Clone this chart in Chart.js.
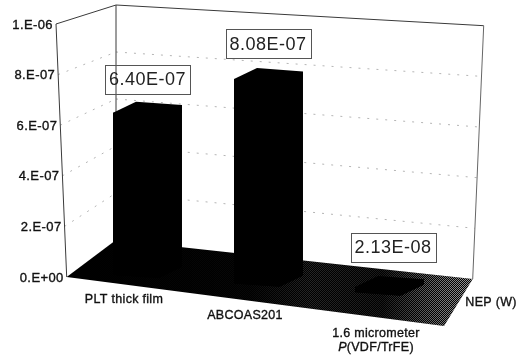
<!DOCTYPE html>
<html>
<head>
<meta charset="utf-8">
<style>
  html, body { margin: 0; padding: 0; background: #fff; }
  canvas { display: block; }
</style>
<script src="https://cdn.jsdelivr.net/npm/chart.js@4/dist/chart.umd.js"></script>
</head>
<body>
<canvas id="nep" width="522" height="357"></canvas>
<script>
const categories = ['PLT thick film', 'ABCOAS201', ['1.6 micrometer', 'P(VDF/TrFE)']];
const nepValues = [6.40e-7, 8.08e-7, 2.13e-8];
const valueLabels = ['6.40E-07', '8.08E-07', '2.13E-08'];
const yTickValues = [0, 2e-7, 4e-7, 6e-7, 8e-7, 1e-6];
const yTickLabels = ['0.E+00', '2.E-07', '4.E-07', '6.E-07', '8.E-07', '1.E-06'];
const seriesName = 'NEP (W)';

// the 3d box the chart sits in
const frontBottom = [66.7, 277];
const frontTop = [56, 24];
const backBottom = [116, 240];
const backTop = [116, 5];
const rightBottom = [472.7, 279];
const rightTop = [483.7, 25.7];
const floorFront = [444, 326];

// fake perspective for the bars
const shear = 0.073;
const shearX = 145;
const depthX = 23;
const depthY = -12.7;

const font = '"Liberation Sans", Arial, sans-serif';

function line(ctx, a, b) {
    ctx.beginPath();
    ctx.moveTo(a[0], a[1]);
    ctx.lineTo(b[0], b[1]);
    ctx.stroke();
}

function lerp(a, b, t) {
    return [a[0] + (b[0] - a[0]) * t, a[1] + (b[1] - a[1]) * t];
}

function boldText(ctx, text, x, y) {
    ctx.fillText(text, x, y);
    ctx.strokeText(text, x, y);
}

function drawWalls(chart) {
    const ctx = chart.ctx;
    const y = chart.scales.y;

    ctx.save();
    ctx.strokeStyle = '#b4b4b4';
    ctx.lineWidth = 1;
    ctx.setLineDash([2, 7]);
    yTickValues.slice(1, -1).forEach(v => {
        const t = (y.bottom - y.getPixelForValue(v)) / (y.bottom - y.top);
        const a = lerp(frontBottom, frontTop, t);
        const b = lerp(backBottom, backTop, t);
        const c = lerp(rightBottom, rightTop, t);
        line(ctx, a, b);
        line(ctx, b, c);
    });
    ctx.setLineDash([]);

    ctx.strokeStyle = '#3a3a3a';
    line(ctx, frontBottom, frontTop);
    line(ctx, frontTop, backTop);
    line(ctx, backTop, rightTop);
    line(ctx, backTop, backBottom);
    ctx.strokeStyle = '#666';
    line(ctx, rightTop, rightBottom);
    ctx.restore();
}

function drawFloor(chart) {
    const ctx = chart.ctx;

    ctx.save();
    ctx.beginPath();
    ctx.moveTo(frontBottom[0], frontBottom[1]);
    ctx.lineTo(backBottom[0], backBottom[1]);
    ctx.lineTo(rightBottom[0], rightBottom[1]);
    ctx.lineTo(floorFront[0], floorFront[1]);
    ctx.closePath();
    ctx.fillStyle = '#000';
    ctx.fill();
    ctx.clip();

    // scanned dither, gets lighter toward the right
    const tile = document.createElement('canvas');
    tile.width = 2;
    tile.height = 2;
    const tileCtx = tile.getContext('2d');
    tileCtx.fillStyle = '#fff';
    tileCtx.fillRect(0, 0, 1, 1);
    tileCtx.fillRect(1, 1, 1, 1);

    const dots = document.createElement('canvas');
    dots.width = chart.width;
    dots.height = chart.height;
    const dotsCtx = dots.getContext('2d');
    dotsCtx.fillStyle = dotsCtx.createPattern(tile, 'repeat');
    dotsCtx.fillRect(0, 0, dots.width, dots.height);
    dotsCtx.globalCompositeOperation = 'destination-in';
    const fade = dotsCtx.createLinearGradient(66, 0, 472, 0);
    fade.addColorStop(0, 'rgba(0,0,0,0)');
    fade.addColorStop(0.45, 'rgba(0,0,0,0.03)');
    fade.addColorStop(0.6, 'rgba(0,0,0,0.15)');
    fade.addColorStop(0.78, 'rgba(0,0,0,0.1)');
    fade.addColorStop(0.92, 'rgba(0,0,0,0.45)');
    fade.addColorStop(1, 'rgba(0,0,0,0.6)');
    dotsCtx.fillStyle = fade;
    dotsCtx.fillRect(0, 0, dots.width, dots.height);

    ctx.drawImage(dots, 0, 0);
    ctx.restore();
}

function drawBarDepth(chart) {
    const ctx = chart.ctx;
    ctx.fillStyle = '#000';
    chart.getDatasetMeta(0).data.forEach(bar => {
        const left = bar.x - bar.width / 2;
        const right = bar.x + bar.width / 2;
        ctx.beginPath();
        ctx.moveTo(left, bar.y);
        ctx.lineTo(left + depthX, bar.y + depthY);
        ctx.lineTo(right + depthX, bar.y + depthY);
        ctx.lineTo(right + depthX, bar.base + depthY);
        ctx.lineTo(right, bar.base);
        ctx.lineTo(left, bar.base);
        ctx.closePath();
        ctx.fill();
    });
}

function drawYLabels(chart) {
    const ctx = chart.ctx;
    const y = chart.scales.y;

    ctx.save();
    ctx.font = '13px ' + font;
    ctx.fillStyle = '#111';
    ctx.strokeStyle = '#111';
    ctx.lineWidth = 0.35;
    ctx.textAlign = 'right';
    ctx.textBaseline = 'middle';
    ctx.letterSpacing = '0.4px';
    yTickValues.forEach((v, i) => {
        const t = (y.bottom - y.getPixelForValue(v)) / (y.bottom - y.top);
        const p = lerp(frontBottom, frontTop, t);
        boldText(ctx, yTickLabels[i], p[0] - 3, p[1] + 1);
    });
    ctx.restore();
}

function drawXLabels(chart) {
    const ctx = chart.ctx;
    const x = chart.scales.x;
    const offsetX = [-12, -12, -2];
    const rowY = [300, 316, 334];

    ctx.save();
    ctx.font = '12.5px ' + font;
    ctx.fillStyle = '#111';
    ctx.strokeStyle = '#111';
    ctx.lineWidth = 0.35;
    ctx.textAlign = 'center';
    ctx.textBaseline = 'middle';
    ctx.letterSpacing = '0.3px';
    categories.forEach((label, i) => {
        const cx = x.getPixelForValue(i) + offsetX[i];
        if (Array.isArray(label)) {
            boldText(ctx, label[0], cx, rowY[i]);
            // the P is italic
            const rest = label[1].slice(1);
            const restWidth = ctx.measureText(rest).width;
            ctx.font = 'italic 12.5px ' + font;
            const pWidth = ctx.measureText('P').width;
            const startX = cx - (restWidth + pWidth) / 2;
            ctx.textAlign = 'left';
            boldText(ctx, 'P', startX, rowY[i] + 14);
            ctx.font = '12.5px ' + font;
            boldText(ctx, rest, startX + pWidth, rowY[i] + 14);
            ctx.textAlign = 'center';
        } else {
            boldText(ctx, label, cx, rowY[i]);
        }
    });
    boldText(ctx, seriesName, 491, 303);
    ctx.restore();
}

function drawValueBoxes(chart) {
    const ctx = chart.ctx;
    const boxW = 85;
    const boxH = 29;
    const nudgeY = [-35, -37, -41.5];
    const nudgeX = [11.5, 11, 15];

    ctx.save();
    ctx.font = '18px ' + font;
    ctx.textAlign = 'center';
    ctx.textBaseline = 'middle';
    ctx.letterSpacing = '0.5px';
    chart.getDatasetMeta(0).data.forEach((bar, i) => {
        const cx = bar.x + nudgeX[i];
        const cy = bar.y + shear * (bar.x - shearX) + nudgeY[i];
        ctx.strokeStyle = '#555';
        ctx.lineWidth = 1;
        ctx.strokeRect(Math.round(cx - boxW / 2) + 0.5, Math.round(cy - boxH / 2) + 0.5, boxW, boxH);
        ctx.fillStyle = '#222';
        ctx.fillText(valueLabels[i], cx, cy + 1);
    });
    ctx.restore();
}

const box3d = {
    id: 'box3d',
    beforeDatasetsDraw(chart) {
        drawWalls(chart);
        drawFloor(chart);
        chart.ctx.save();
        chart.ctx.transform(1, shear, 0, 1, 0, -shear * shearX);
        drawBarDepth(chart);
    },
    afterDatasetsDraw(chart) {
        chart.ctx.restore();
        drawValueBoxes(chart);
        drawYLabels(chart);
        drawXLabels(chart);
    }
};

const chart = new Chart(document.getElementById('nep'), {
    type: 'bar',
    data: {
        labels: categories,
        datasets: [{
            label: seriesName,
            data: nepValues,
            backgroundColor: '#000',
            borderWidth: 0,
            barPercentage: 1,
            categoryPercentage: 0.38,
            clip: false
        }]
    },
    options: {
        responsive: false,
        animation: false,
        layout: { padding: { left: 75.5, right: 83.5, top: 24, bottom: 80 } },
        plugins: {
            legend: { display: false },
            tooltip: { enabled: false }
        },
        scales: {
            x: { display: false },
            y: { display: false, min: 0, max: 1e-6 }
        }
    },
    plugins: [box3d]
});
</script>
</body>
</html>
